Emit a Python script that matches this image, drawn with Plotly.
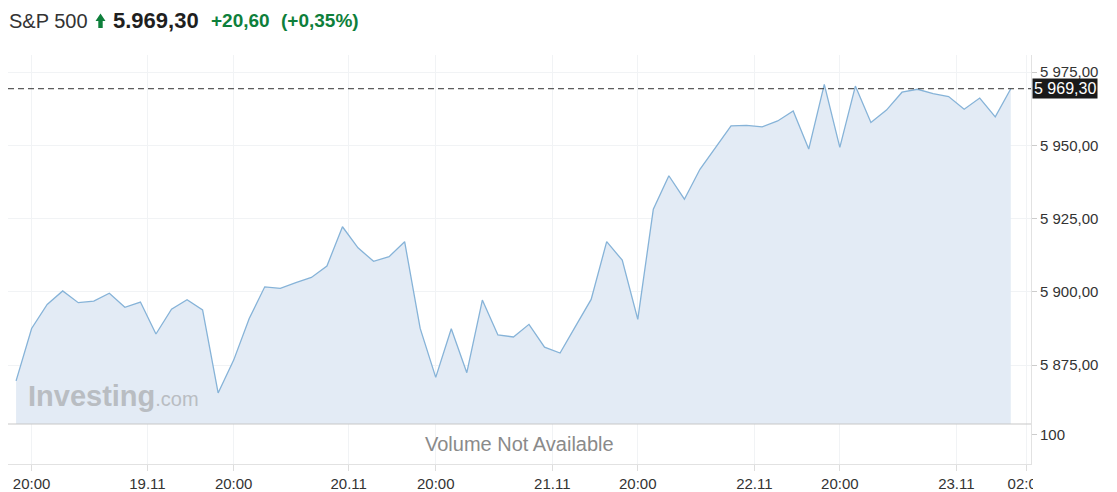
import plotly.graph_objects as go

# ---- data ----
prices = [5869.6, 5887.5, 5895.7, 5900.3, 5896.3, 5896.8, 5899.5, 5894.7, 5896.5, 5885.6,
          5894.1, 5897.3, 5893.8, 5865.5, 5876.7, 5890.9, 5901.7, 5901.2, 5903.1, 5904.9,
          5908.8, 5922.2, 5915.0, 5910.4, 5912.0, 5917.1, 5887.5, 5870.8, 5887.4, 5872.4,
          5897.2, 5885.3, 5884.6, 5888.9, 5881.1, 5879.1, 5888.3, 5897.4, 5917.1, 5910.8,
          5890.6, 5928.2, 5939.6, 5931.6, 5941.8, 5949.3, 5956.6, 5956.8, 5956.3, 5958.3,
          5961.7, 5948.7, 5970.8, 5949.3, 5970.2, 5957.8, 5962.0, 5968.1, 5969.1, 5967.6,
          5966.6, 5962.3, 5966.1, 5959.7, 5969.3]
bar_index = list(range(len(prices)))
last_price = 5969.30
x_tick_pos = [1, 8.45, 14, 21.4, 27, 34.5, 40, 47.5, 53, 60.5, 65]
x_tick_labels = ["20:00", "19.11", "20:00", "20.11", "20:00", "21.11", "20:00", "22.11", "20:00", "23.11", "02:00"]
y_ticks = [5875, 5900, 5925, 5950, 5975]

W, H = 1117, 492
L, R, T, B = 8, 1031, 55, 464
def px(xp): return (xp - L) / (R - L)
def py(yp): return (B - yp) / (B - T)

FONT = "Liberation Sans, Arial, sans-serif"
GREEN = "#0e7f3b"

fig = go.Figure()
fig.add_trace(go.Scatter(
    x=bar_index, y=prices, mode="lines", xaxis="x", yaxis="y",
    line=dict(color="#86b3d8", width=1.3),
    fill="tozeroy", fillcolor="rgba(225,234,244,0.95)",
    hoverinfo="skip", showlegend=False,
))
# empty volume panel (no volume data available)
fig.add_trace(go.Scatter(x=[None], y=[None], xaxis="x2", yaxis="y2",
                         mode="lines", hoverinfo="skip", showlegend=False))

grid = "#f1f3f5"
xcommon = dict(range=[-0.52, 65.3], tickvals=x_tick_pos, showgrid=True, gridcolor=grid,
               zeroline=False, automargin=False)
fig.update_layout(
    width=W, height=H,
    margin=dict(l=L, r=W - R, t=T, b=H - B, autoexpand=False),
    paper_bgcolor="white", plot_bgcolor="white",
    separators=", ",
    font=dict(family=FONT, color="#333333", size=15),
    xaxis=dict(**xcommon, showticklabels=False, ticks="", anchor="y", showline=False),
    xaxis2=dict(**xcommon, ticktext=x_tick_labels, anchor="y2", matches="x",
                ticks="outside", ticklen=6, tickcolor="#dddddd",
                showline=True, linecolor="#e2e2e2", linewidth=1,
                tickfont=dict(size=15, color="#333")),
    yaxis=dict(
        domain=[py(424), 1], range=[5854.9, 5980.8], side="right", anchor="x",
        tickvals=y_ticks, tickformat=",.2f", automargin=False,
        showgrid=True, gridcolor=grid, zeroline=False,
        ticks="outside", ticklen=5, tickcolor="#cccccc",
        showline=True, linecolor="#e2e2e2", linewidth=1,
        tickfont=dict(size=15, color="#333"),
    ),
    yaxis2=dict(
        domain=[0, py(424)], range=[0, 137.9], side="right", anchor="x2", automargin=False,
        tickvals=[100], showgrid=False, zeroline=False,
        ticks="outside", ticklen=5, tickcolor="#cccccc",
        showline=True, linecolor="#e2e2e2", linewidth=1,
        tickfont=dict(size=15, color="#333"),
    ),
)

# dashed last-price line
fig.add_shape(type="line", xref="paper", yref="y", x0=0, x1=1, y0=last_price, y1=last_price,
              line=dict(color="#333333", width=1, dash="6px,4px"))
# separator between price and volume panels
fig.add_shape(type="line", xref="paper", yref="paper", x0=0, x1=1, y0=py(424), y1=py(424),
              line=dict(color="#c8c8c8", width=1.2))
# hide the clipped part of the last x label
fig.add_shape(type="rect", xref="paper", yref="paper", x0=px(1033), x1=px(1117), y0=py(467), y1=py(492),
              fillcolor="white", line=dict(width=0), layer="above")

# last price box
fig.add_annotation(xref="paper", yref="y", x=px(1032), y=last_price, xanchor="left", yanchor="middle",
                   text="5 969,30", showarrow=False, bgcolor="#1a1a1a",
                   font=dict(color="white", size=16), borderpad=1)

# volume text
fig.add_annotation(xref="paper", yref="paper", x=px(519), y=py(444), xanchor="center", yanchor="middle",
                   text="Volume Not Available",
                   showarrow=False, font=dict(size=20, color="#8a8a8a"))

# watermark
fig.add_annotation(xref="paper", yref="paper", x=px(26), y=py(396), xanchor="left", yanchor="middle",
                   text="<b>Investing</b><span style='font-size:20px'>.com</span>", showarrow=False,
                   font=dict(size=29, color="#b9bdc2", family=FONT))

# header
hy = py(21)
fig.add_annotation(xref="paper", yref="paper", x=px(7), y=hy, xanchor="left", yanchor="middle",
                   text="S&amp;P 500", showarrow=False, font=dict(size=20, color="#333333"))
fig.add_shape(type="path", xref="paper", yref="paper", layer="above",
              path=(f"M {px(95.5)},{py(21)} L {px(100.5)},{py(13.5)} L {px(105.5)},{py(21)} "
                    f"L {px(102.7)},{py(21)} L {px(102.7)},{py(28)} L {px(98.3)},{py(28)} "
                    f"L {px(98.3)},{py(21)} Z"),
              fillcolor=GREEN, line=dict(width=0))
fig.add_annotation(xref="paper", yref="paper", x=px(111), y=hy, xanchor="left", yanchor="middle",
                   text="<b>5.969,30</b>", showarrow=False, font=dict(size=22, color="#1f1f1f"))
fig.add_annotation(xref="paper", yref="paper", x=px(209), y=hy, xanchor="left", yanchor="middle",
                   text="<b>+20,60</b>", showarrow=False, font=dict(size=19, color=GREEN))
fig.add_annotation(xref="paper", yref="paper", x=px(279), y=hy, xanchor="left", yanchor="middle",
                   text="<b>(+0,35%)</b>", showarrow=False, font=dict(size=19, color=GREEN))

fig.write_html("out.html", config={"displayModeBar": False},
               post_script="document.body.style.margin='0';")
